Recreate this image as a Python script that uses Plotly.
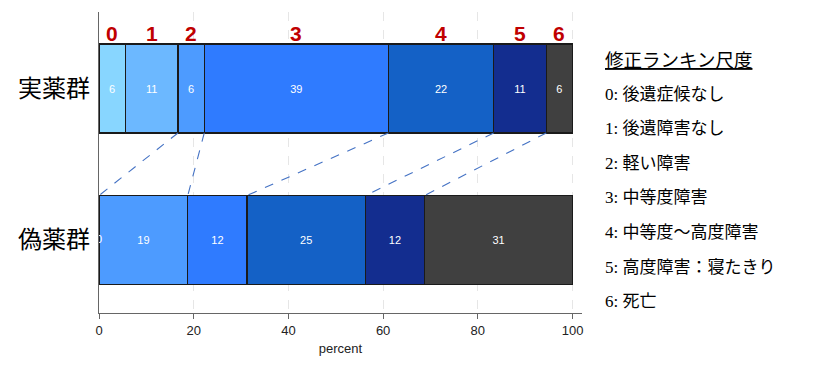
import plotly.graph_objects as go

# ---- data ----
groups = ["実薬群", "偽薬群"]
classes = ["0", "1", "2", "3", "4", "5", "6"]
active_pct = [5.56, 11.11, 5.56, 38.89, 22.22, 11.11, 5.56]
placebo_pct = [0.0, 0.0, 18.75, 12.5, 25.0, 12.5, 31.25]
active_labels = ["6", "11", "6", "39", "22", "11", "6"]
placebo_labels = ["0", "0", "19", "12", "25", "12", "31"]
legend_title = "修正ランキン尺度"
legend_items = ["0: 後遺症候なし", "1: 後遺障害なし", "2: 軽い障害", "3: 中等度障害",
                "4: 中等度～高度障害", "5: 高度障害：寝たきり", "6: 死亡"]
x_ticks = [0, 20, 40, 60, 80, 100]
x_title = "percent"

colors = ["#88d6ff", "#6cb8ff", "#4d9bff", "#2f7bff", "#1461c6", "#132d8f", "#404040"]

Y_TOP, Y_BOT = 1, 0
BW = 0.587
CJK = "Noto Sans CJK JP"
SANS = "Liberation Sans, Arial, sans-serif"

# page body has an 8px default margin; compensate
OFF = 8
W, H = 824 - OFF, 371 - OFF

fig = go.Figure()
for i, c in enumerate(classes):
    vals = [active_pct[i], placebo_pct[i]]
    labs = [active_labels[i] if active_pct[i] > 0 else "",
            placebo_labels[i] if placebo_pct[i] > 0 else ""]
    fig.add_trace(go.Bar(
        x=vals, y=[Y_TOP, Y_BOT], orientation="h", width=BW,
        marker=dict(color=colors[i], line=dict(color="#1a1a1a", width=1.3)),
        text=labs, textposition="inside", insidetextanchor="middle", textangle=0,
        textfont=dict(color="white", size=11, family=SANS),
        showlegend=False, name=c))

# zero-valued placebo label partially hidden at the left edge
zero_x = [0 for v in placebo_pct[:1] if v == 0]
fig.add_trace(go.Scatter(x=zero_x, y=[Y_BOT] * len(zero_x), mode="text",
                         text=placebo_labels[:len(zero_x)], cliponaxis=True,
                         textfont=dict(color="white", size=11, family=SANS),
                         showlegend=False))

def cums(v):
    out, s = [], 0
    for a in v:
        s += a
        out.append(s)
    return out

ca = cums(active_pct)
cp = cums(placebo_pct)

# dashed connectors between class boundaries
for k in range(1, 6):
    fig.add_shape(type="line", xref="x", yref="y",
                  x0=ca[k], y0=Y_TOP - BW / 2, x1=cp[k], y1=Y_BOT + BW / 2,
                  line=dict(color="#4472c4", width=1.1, dash="dash"))

# red class numbers above top bar
starts = [0] + ca[:-1]
for i, c in enumerate(classes):
    fig.add_annotation(x=(starts[i] + ca[i]) / 2, y=1.366, xref="x", yref="y",
                       text="<b>%s</b>" % c, showarrow=False,
                       font=dict(color="#c00000", size=21, family=SANS))

# plot area in screen pixels
PL, PR, PT, PB = 99, 582, 12, 313
def px_to_paper(px, py):
    return (px - PL) / (PR - PL), (PB - py) / (PB - PT)

tx, ty = px_to_paper(603, 61)
fig.add_annotation(x=tx, y=ty, xref="paper", yref="paper", xanchor="left", yanchor="middle",
                   text="<u>%s</u>" % legend_title, showarrow=False,
                   font=dict(color="black", size=18.5, family="Liberation Serif, " + CJK))
for k, item in enumerate(legend_items):
    ix, iy = px_to_paper(603, 94 + 34.6 * k)
    fig.add_annotation(x=ix, y=iy, xref="paper", yref="paper", xanchor="left", yanchor="middle",
                       text=item, showarrow=False,
                       font=dict(color="black", size=17, family="Liberation Serif, " + CJK))

fig.update_layout(
    barmode="stack",
    width=W, height=H,
    margin=dict(l=PL - OFF, r=824 - PR, t=PT - OFF, b=371 - PB, pad=0, autoexpand=False),
    paper_bgcolor="white", plot_bgcolor="white",
    xaxis=dict(range=[0, 102], tickvals=x_ticks, ticks="outside", ticklen=5,
               tickcolor="#666", showline=True, linecolor="#666", linewidth=1.3,
               showgrid=True, gridcolor="#e6e6e6", griddash="dash", gridwidth=1,
               zeroline=False, automargin=False,
               tickfont=dict(size=13, color="#222", family=SANS),
               title=dict(text=x_title, font=dict(size=13, color="#222", family=SANS), standoff=7)),
    yaxis=dict(range=[-0.482, 1.505], tickvals=[Y_TOP, Y_BOT], ticktext=groups,
               showline=True, linecolor="#666", linewidth=1.3, showgrid=False,
               zeroline=False, ticks="", ticklabelstandoff=3, automargin=False,
               tickfont=dict(size=24, color="black", family=CJK)),
)

fig.write_html("out.html")
